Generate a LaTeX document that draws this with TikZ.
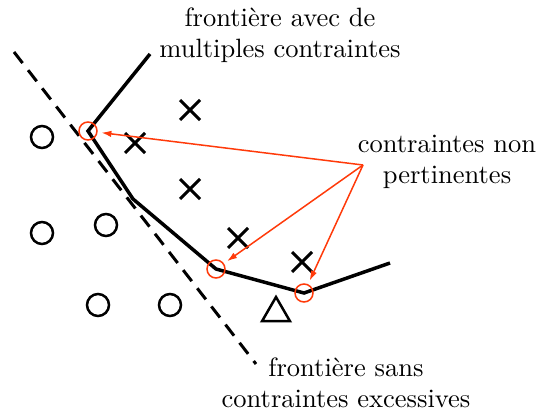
\documentclass[tikz,border=0pt]{standalone}
\usepackage{tikz}
\usetikzlibrary{arrows.meta,shapes.geometric,shapes.misc}
\definecolor{cInk}{HTML}{000000}
\definecolor{cRed}{HTML}{FF3A0A}
\tikzset{
  posdot/.style={draw=cInk,circle,line width=1pt,minimum size=8.8pt,inner sep=0pt},
  negdot/.style={draw=cInk,cross out,line width=1.2pt,minimum size=6.8pt,inner sep=0pt},
  tridot/.style={draw=cInk,regular polygon,regular polygon sides=3,line width=1pt,minimum size=12.8pt,inner sep=0pt},
  mkdot/.style={draw=cRed,circle,line width=0.6pt,minimum size=7.2pt,inner sep=0pt},
  bnd/.style={line width=1.4pt,line join=miter,color=cInk},
  bnddash/.style={line width=1.2pt,dash pattern=on 5.6pt off 3.6pt,color=cInk},
  arr/.style={-{Latex[length=4pt,width=2.6pt]},line width=0.6pt,color=cRed,shorten >=1.5pt},
  lab/.style={align=center,font=\fontsize{10.6}{12.2}\selectfont,inner sep=0pt},
}
\begin{document}
\begin{tikzpicture}[x=0.4pt,y=-0.4pt]
        \useasboundingbox (0,0) rectangle (544,412);
        % samples
        \node[posdot] (o1) at (42,137) {};
        \node[posdot] (o2) at (42,233) {};
        \node[posdot] (o3) at (106,225) {};
        \node[posdot] (o4) at (98,305) {};
        \node[posdot] (o5) at (170,305) {};
        \node[negdot] (x1) at (190,110) {};
        \node[negdot] (x2) at (135,143) {};
        \node[negdot] (x3) at (190,189) {};
        \node[negdot] (x4) at (238,238) {};
        \node[negdot] (x5) at (302,262) {};
        \node[tridot] (t1) at (276,313) {};
        % boundaries
        \coordinate (d0) at (14,52);
        \coordinate (d1) at (256,364);
        \draw[bnddash] (d0) -- (d1);
        \coordinate (p0) at (150,54);
        \coordinate (p1) at (88,131);
        \coordinate (p2) at (133,199);
        \coordinate (p3) at (216,269);
        \coordinate (p4) at (304,293);
        \coordinate (p5) at (390,263);
        \draw[bnd] (p0) -- (p1) -- (p2) -- (p3) -- (p4) -- (p5);
        \node[mkdot] (r1) at (p1) {};
        \node[mkdot] (r2) at (p3) {};
        \node[mkdot] (r3) at (p4) {};
        % labels
        \node[lab] (lblMulti) at (280,35) {frontière avec de\\multiples contraintes};
        \node[lab] (lblNonPert) at (447,162) {contraintes non\\pertinentes};
        \node[lab] (lblSans) at (346,383) {frontière sans\\contraintes excessives};
        \coordinate (src) at (363,165);
        \draw[arr] (src) -- (r1);
        \draw[arr] (src) -- (r2);
        \draw[arr] (src) -- (r3);
      \end{tikzpicture}
\end{document}
